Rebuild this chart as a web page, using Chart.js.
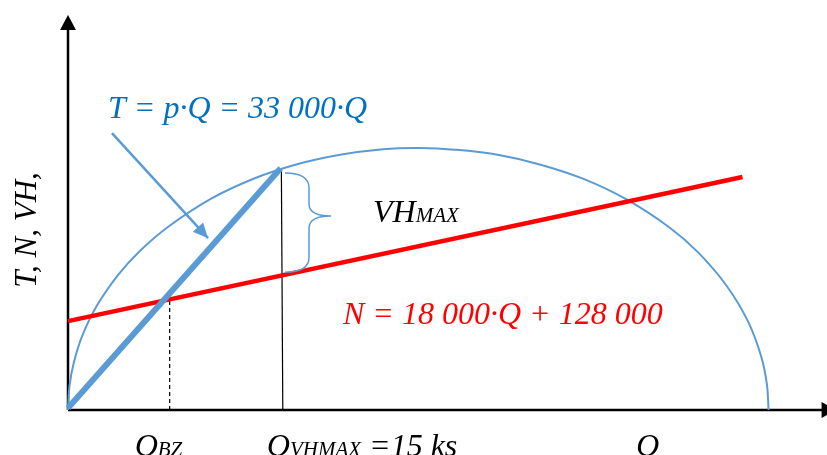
<!DOCTYPE html>
<html>
<head>
<meta charset="utf-8">
<script src="https://cdn.jsdelivr.net/npm/chart.js@4.4.0/dist/chart.umd.min.js"></script>
<style>
  body { margin: 0; background: #fff; }
  #wrap { width: 827px; height: 455px; }
</style>
</head>
<body>
<div id="wrap"><canvas id="chart" width="827" height="455"></canvas></div>
<script>
// quantity Q (ks) and schematic value units
var arcQ     = [0, 0.1, 0.4, 1, 2, 3.5, 5, 7, 10, 13, 16, 19, 22, 24.5, 27, 30, 33, 36, 39, 42, 44, 46, 47.5, 48.4, 48.8, 48.92];
var arcValue = [0, 6.0, 11.9, 18.8, 26.3, 34.2, 40.2, 46.4, 53.5, 58.6, 62.2, 64.6, 66.0, 66.3, 65.9, 64.6, 62.1, 58.5, 53.3, 46.2, 39.9, 31.4, 22.3, 13.6, 6.6, 0];

var revenueQ     = [0, 14.85];     // T = 33 000·Q
var revenueValue = [0.5, 61.2];
var costQ        = [0, 47.1];      // N = 18 000·Q + 128 000
var costValue    = [22.5, 59.0];

var qBZ = 7.1, costAtBZ = 28.0;
var qVHMAX = [15, 14.9], vhmaxTop = [0, 60.5];
var calloutQ = [3.07, 9.78], calloutValue = [70.1, 43.5];
var brace = { q: 16.83, tipQ: 18.37, endQ: 15.15, top: 60.0, mid: 49.1, bottom: 34.9 };

var axisQ = [0, 53], axisMax = 100, axisArrowQ = 53.6;

var texts = {
  revenue: 'T = p·Q = 33 000·Q',
  cost: 'N = 18 000·Q + 128 000',
  yTitle: 'T, N, VH,',
  vh: ['VH', 'MAX'],
  bz: ['Q', 'BZ'],
  vhq: ['Q', 'VHMAX', ' =15 ks'],
  q: 'Q'
};

var BLUE = '#5B9BD5', DARKBLUE = '#0070C0', RED = '#FF0000';
var SERIF = '"Liberation Serif", "Times New Roman", serif';

function pts(xs, ys) {
  return xs.map(function (x, i) { return { x: x, y: ys[i] }; });
}

function arrowHead(ctx, tx, ty, fx, fy, len, half, color) {
  var a = Math.atan2(ty - fy, tx - fx);
  ctx.save();
  ctx.fillStyle = color;
  ctx.beginPath();
  ctx.moveTo(tx, ty);
  ctx.lineTo(tx - len * Math.cos(a) + half * Math.sin(a), ty - len * Math.sin(a) - half * Math.cos(a));
  ctx.lineTo(tx - len * Math.cos(a) - half * Math.sin(a), ty - len * Math.sin(a) + half * Math.cos(a));
  ctx.closePath();
  ctx.fill();
  ctx.restore();
}

// main text followed by subscript (and optional tail at main size)
function subText(ctx, x, y, parts, color) {
  ctx.fillStyle = color;
  ctx.font = 'italic 32px ' + SERIF;
  ctx.fillText(parts[0], x, y);
  x += ctx.measureText(parts[0]).width;
  ctx.font = 'italic 21px ' + SERIF;
  ctx.fillText(parts[1], x, y);
  x += ctx.measureText(parts[1]).width;
  if (parts[2]) {
    ctx.font = 'italic 32px ' + SERIF;
    ctx.fillText(parts[2], x, y);
  }
}

var decor = {
  id: 'decor',
  afterDatasetsDraw: function (chart) {
    var ctx = chart.ctx, xs = chart.scales.x, ys = chart.scales.y;
    var px = function (v) { return xs.getPixelForValue(v); };
    var py = function (v) { return ys.getPixelForValue(v); };

    // axis arrows
    arrowHead(ctx, px(0), py(axisMax), px(0), py(0), 15, 8, '#000');
    arrowHead(ctx, px(axisArrowQ), py(0), px(0), py(0), 14, 8, '#000');
    // callout arrow
    arrowHead(ctx, px(calloutQ[1]), py(calloutValue[1]), px(calloutQ[0]), py(calloutValue[0]), 15, 7, BLUE);

    // brace
    var bx = px(brace.q), tx = px(brace.tipQ), ex = px(brace.endQ);
    var t = py(brace.top), m = py(brace.mid), b = py(brace.bottom);
    ctx.save();
    ctx.strokeStyle = BLUE;
    ctx.lineWidth = 1.5;
    ctx.beginPath();
    ctx.moveTo(ex, t);
    ctx.quadraticCurveTo(bx, t, bx, t + 15);
    ctx.lineTo(bx, m - 12);
    ctx.quadraticCurveTo(bx, m, tx, m);
    ctx.quadraticCurveTo(bx, m, bx, m + 12);
    ctx.lineTo(bx, b - 15);
    ctx.quadraticCurveTo(bx, b, ex, b);
    ctx.stroke();
    ctx.restore();

    ctx.save();
    ctx.textBaseline = 'alphabetic';
    ctx.textAlign = 'left';

    ctx.fillStyle = DARKBLUE;
    ctx.font = 'italic 32px ' + SERIF;
    ctx.fillText(texts.revenue, 108, 118);

    ctx.fillStyle = RED;
    ctx.fillText(texts.cost, 343, 324);

    subText(ctx, 373, 222, texts.vh, '#000');

    // axis labels
    subText(ctx, px(qBZ) - 35, 456, texts.bz, '#000');
    subText(ctx, px(qVHMAX[0]) - 16, 456, texts.vhq, '#000');
    ctx.fillStyle = '#000';
    ctx.font = 'italic 32px ' + SERIF;
    ctx.fillText(texts.q, 636, 456);

    ctx.translate(36, 230);
    ctx.rotate(-Math.PI / 2);
    ctx.textAlign = 'center';
    ctx.font = 'italic 31px ' + SERIF;
    ctx.fillText(texts.yTitle, 0, 0);
    ctx.restore();
  }
};

var line = function (data, color, width, extra) {
  var ds = {
    data: data, borderColor: color, borderWidth: width, showLine: true,
    pointRadius: 0, fill: false, clip: false, borderCapStyle: 'butt'
  };
  for (var k in extra) ds[k] = extra[k];
  return ds;
};

new Chart(document.getElementById('chart'), {
  type: 'scatter',
  data: {
    datasets: [
      line(pts(revenueQ, revenueValue), BLUE, 6),
      line(pts(costQ, costValue), RED, 4.5),
      line(pts(arcQ, arcValue), BLUE, 2, { tension: 0.4 }),
      line(pts(qVHMAX, vhmaxTop), '#000', 1.2),
      line(pts([qBZ, qBZ], [0, costAtBZ]), '#000', 1.2, { borderDash: [4, 3] }),
      line(pts(calloutQ, calloutValue), BLUE, 2.5),
      line(pts([0, 0], [0, axisMax - 3.5]), '#000', 2.5),
      line(pts(axisQ, [0, 0]), '#000', 2.5)
    ]
  },
  options: {
    responsive: false,
    animation: false,
    events: [],
    layout: { padding: { left: 68, right: 0, top: 15, bottom: 45 } },
    plugins: { legend: { display: false }, tooltip: { enabled: false } },
    scales: {
      x: { type: 'linear', min: 0, max: 53, display: false },
      y: { type: 'linear', min: 0, max: 100, display: false }
    }
  },
  plugins: [decor]
});
</script>
</body>
</html>
